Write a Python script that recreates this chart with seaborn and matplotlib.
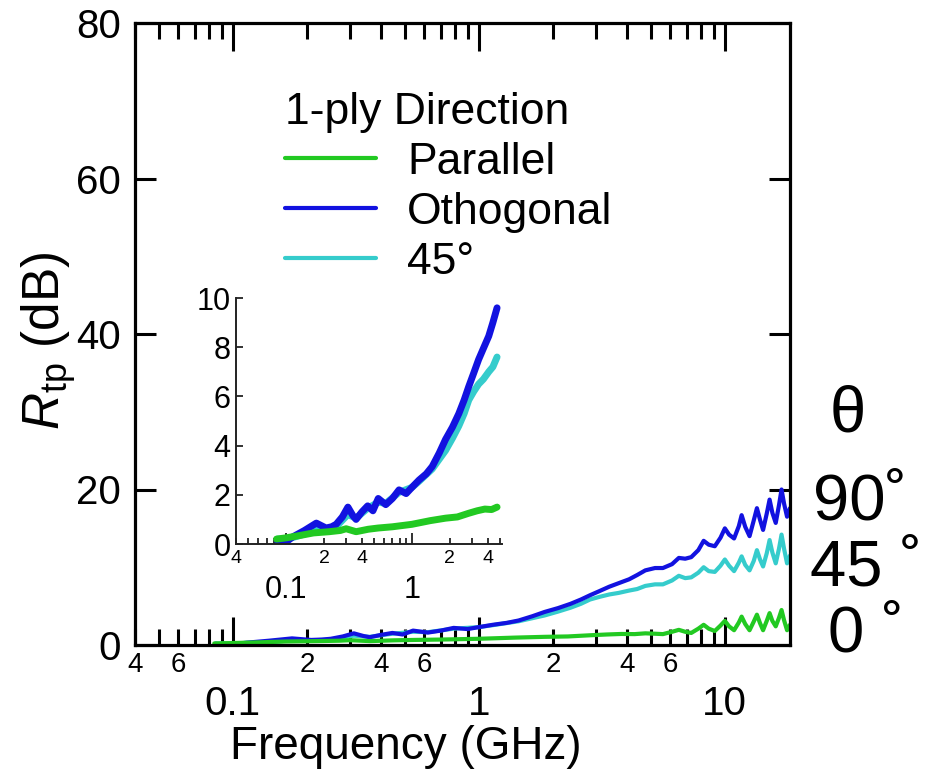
import matplotlib
matplotlib.use("Agg")
import matplotlib.pyplot as plt
from matplotlib.ticker import FixedLocator, FixedFormatter
import pandas as pd
import seaborn as sns

# ---------------- data ----------------
# shared frequency grid above 5 GHz (GHz)
freq_high = [5.2, 5.6, 6.1, 6.5, 6.9, 7.3, 7.8, 8.2, 8.6, 9.1, 9.6, 10.0, 10.4,
             10.9, 11.4, 11.7, 12.1, 12.6, 13.1, 13.5, 13.9, 14.3, 14.8, 15.2,
             15.6, 16.1, 16.6, 17.0, 17.4, 17.9, 18.4]

# orthogonal direction
freq_orth_low = [0.085, 0.095, 0.114, 0.14, 0.174, 0.19, 0.208, 0.23, 0.25, 0.28,
                 0.31, 0.34, 0.36, 0.40, 0.445, 0.49, 0.54, 0.62, 0.70, 0.79, 0.90,
                 1.0, 1.14, 1.3, 1.45, 1.65, 1.85, 2.1, 2.36, 2.6, 2.83, 3.1, 3.39,
                 3.7, 4.08, 4.4, 4.75]
rtp_orth_low = [0.15, 0.0, 0.3, 0.55, 0.85, 0.75, 0.65, 0.7, 0.8, 1.1, 1.5, 1.15,
                1.0, 1.3, 1.55, 1.35, 1.85, 1.6, 1.85, 2.2, 2.05, 2.3, 2.6, 2.85,
                3.15, 3.7, 4.25, 4.75, 5.3, 5.85, 6.4, 6.95, 7.5, 7.95, 8.45, 9.0, 9.6]
rtp_orth_high = [9.9, 9.9, 10.4, 11.2, 11.1, 11.3, 12.2, 13.4, 12.9, 12.7, 13.8,
                 15.0, 14.2, 13.7, 15.3, 16.7, 15.2, 14.0, 16.0, 17.6, 16.1, 14.8,
                 16.9, 18.7, 17.0, 15.7, 18.0, 20.0, 18.2, 16.5, 17.6]

# 45 degree direction
freq_45_low = [0.085, 0.1, 0.12, 0.15, 0.18, 0.21, 0.25, 0.31, 0.36, 0.445, 0.54,
               0.62, 0.79, 1.0, 1.14, 1.45, 1.85, 2.1, 2.36, 2.6, 2.83, 3.1, 3.39,
               3.7, 4.08, 4.4, 4.75]
rtp_45_low = [0.2, 0.2, 0.3, 0.45, 0.65, 0.6, 0.7, 1.2, 1.05, 1.45, 1.7, 1.65, 2.1,
              2.3, 2.55, 3.05, 3.8, 4.3, 4.8, 5.3, 5.85, 6.2, 6.5, 6.7, 7.0, 7.2, 7.6]
rtp_45_high = [7.8, 7.8, 8.3, 8.9, 8.6, 8.7, 9.3, 10.0, 9.5, 9.4, 10.2, 11.0, 10.2,
               9.5, 10.6, 11.4, 10.3, 9.6, 10.8, 12.2, 11.0, 10.1, 11.8, 13.5, 11.9,
               10.5, 12.4, 14.2, 12.4, 10.5, 11.5]

# parallel direction
freq_par_low = [0.084, 0.1, 0.13, 0.165, 0.22, 0.27, 0.3, 0.36, 0.45, 0.54, 0.7,
                1.0, 1.4, 1.85, 2.3, 2.83, 3.3, 3.8, 4.3, 4.75]
rtp_par_low = [0.2, 0.25, 0.35, 0.45, 0.5, 0.55, 0.62, 0.5, 0.6, 0.65, 0.7, 0.8,
               0.95, 1.05, 1.1, 1.25, 1.35, 1.42, 1.4, 1.5]
rtp_par_high = [1.45, 1.4, 1.7, 1.95, 1.7, 1.55, 2.1, 2.6, 2.1, 1.8, 2.5, 3.1, 2.4,
                1.9, 2.9, 3.65, 2.7, 1.9, 3.0, 3.9, 2.8, 1.9, 3.1, 4.1, 3.1, 2.4,
                3.5, 4.5, 3.2, 1.9, 2.6]

series_names = ["Parallel", "Othogonal", "45°"]
draw_order = ["45°", "Othogonal", "Parallel"]
series_colors = {"Parallel": "#22c922", "Othogonal": "#1212e0", "45°": "#35cccc"}

# main axis ticks
main_major = [0.1, 1, 10]
main_major_labels = ["0.1", "1", "10"]
main_minor = [0.04, 0.05, 0.06, 0.07, 0.08, 0.09, 0.2, 0.3, 0.4, 0.5, 0.6, 0.7,
              0.8, 0.9, 2, 3, 4, 5, 6, 7, 8, 9]
main_minor_labels = ["4", "", "6", "", "", "", "2", "", "4", "", "6", "", "", "",
                     "2", "", "4", "", "6", "", "", ""]
main_yticks = [0, 20, 40, 60, 80]

# inset ticks
ins_major = [0.1, 1]
ins_major_labels = ["0.1", "1"]
ins_minor = [0.04, 0.05, 0.06, 0.07, 0.08, 0.09, 0.2, 0.3, 0.4, 0.5, 0.6, 0.7,
             0.8, 0.9, 2, 3, 4, 5]
ins_minor_labels = ["4", "", "", "", "", "", "2", "", "4", "", "", "", "", "",
                    "2", "", "4", ""]
ins_yticks = [0, 2, 4, 6, 8, 10]

angle_labels = ["θ", "90˚", "45 ˚", "0 ˚"]

# ---------------- table ----------------
frames = [
    pd.DataFrame({"Frequency": freq_par_low + freq_high,
                  "Rtp": rtp_par_low + rtp_par_high, "Direction": "Parallel"}),
    pd.DataFrame({"Frequency": freq_orth_low + freq_high,
                  "Rtp": rtp_orth_low + rtp_orth_high, "Direction": "Othogonal"}),
    pd.DataFrame({"Frequency": freq_45_low + freq_high,
                  "Rtp": rtp_45_low + rtp_45_high, "Direction": "45°"}),
]
df = pd.concat(frames, ignore_index=True)

# ---------------- style ----------------
sns.set_style("ticks")
plt.rcParams["font.family"] = ["Liberation Sans", "DejaVu Sans"]
plt.rcParams["mathtext.fontset"] = "custom"
plt.rcParams["mathtext.rm"] = "Liberation Sans"
plt.rcParams["mathtext.it"] = "Liberation Sans:italic"
for key in ["text.color", "axes.labelcolor", "xtick.color", "ytick.color",
            "axes.edgecolor"]:
    plt.rcParams[key] = "black"

W, H = 925, 779
fig = plt.figure(figsize=(W / 100, H / 100), dpi=100)
fig.patch.set_facecolor("white")

# ---------------- main axes ----------------
L, R, T, B = 135, 790, 23, 645
ax = fig.add_axes([L / W, 1 - B / H, (R - L) / W, (B - T) / H])
ax.set_xscale("log")
sns.lineplot(data=df, x="Frequency", y="Rtp", hue="Direction",
             hue_order=draw_order, palette=series_colors, estimator=None,
             sort=False, lw=3, ax=ax)
ax.set_xlim(0.04, 18.4)
ax.set_ylim(0, 80)

ax.xaxis.set_major_locator(FixedLocator(main_major))
ax.xaxis.set_major_formatter(FixedFormatter(main_major_labels))
ax.xaxis.set_minor_locator(FixedLocator(main_minor))
ax.xaxis.set_minor_formatter(FixedFormatter(main_minor_labels))
ax.set_yticks(main_yticks)

for s in ax.spines.values():
    s.set_linewidth(2.3)
    s.set_color("black")
ax.tick_params(axis="both", which="both", direction="in", top=True,
               right=True, width=2.2, color="black", labelcolor="black")
ax.tick_params(axis="x", which="major", length=20, pad=29, labelsize=29)
ax.tick_params(axis="x", which="minor", length=11.5, pad=5, labelsize=20)
ax.tick_params(axis="y", which="major", length=15, pad=10, labelsize=29)

ax.set_xlabel("Frequency (GHz)", fontsize=33)
ax.xaxis.set_label_coords((406 - L) / (R - L), -0.128)
ax.set_ylabel(r"$R_{\rm tp}$ (dB)", fontsize=37)
ax.yaxis.set_label_coords(-0.087, 0.49)

old = ax.get_legend()
hmap = {t.get_text(): h for t, h in zip(old.get_texts(), old.legend_handles)}
old.remove()
leg = ax.legend([hmap[n] for n in series_names], series_names,
                title="1-ply Direction", frameon=False, fontsize=32,
                title_fontsize=32, handlelength=2.05, handletextpad=0.7,
                labelspacing=0.2, loc="upper left", alignment="left",
                bbox_to_anchor=((285 - L) / (R - L), (B - 92) / (B - T)),
                borderaxespad=0, borderpad=0)
for h in leg.legend_handles:
    h.set_linewidth(3)
for t in leg.get_texts():
    t.set_color("black")
leg.get_title().set_color("black")

# ---------------- inset ----------------
iL, iR, iT, iB = 236, 502, 298, 544
axin = fig.add_axes([iL / W, 1 - iB / H, (iR - iL) / W, (iB - iT) / H])
axin.set_xscale("log")
sns.lineplot(data=df[df["Frequency"] <= 4.8], x="Frequency", y="Rtp",
             hue="Direction", hue_order=draw_order, palette=series_colors,
             estimator=None, sort=False, lw=5, ax=axin, legend=False)
axin.set_xlim(0.04, 5.2)
axin.set_ylim(0, 10)
axin.set_facecolor("none")
axin.xaxis.set_major_locator(FixedLocator(ins_major))
axin.xaxis.set_major_formatter(FixedFormatter(ins_major_labels))
axin.xaxis.set_minor_locator(FixedLocator(ins_minor))
axin.xaxis.set_minor_formatter(FixedFormatter(ins_minor_labels))
axin.set_yticks(ins_yticks)
axin.set_xlabel("")
axin.set_ylabel("")
for side in ["top", "right"]:
    axin.spines[side].set_visible(False)
for side in ["left", "bottom"]:
    axin.spines[side].set_linewidth(1.4)
    axin.spines[side].set_color("#222222")
axin.tick_params(axis="both", which="both", direction="in", width=1.3,
                 color="#222222", labelcolor="black")
axin.tick_params(axis="x", which="major", length=8, pad=22, labelsize=22)
axin.tick_params(axis="x", which="minor", length=4.5, pad=4, labelsize=14)
axin.tick_params(axis="y", which="major", length=5, pad=4, labelsize=22)

# ---------------- angle annotations ----------------
angle_pos = [(848, 415), (860, 502), (866, 568), (866, 635)]
for txt, (px, py) in zip(angle_labels, angle_pos):
    fig.text(px / W, 1 - py / H, txt, fontsize=47, ha="center", va="center",
             color="black")

fig.savefig("out.png", dpi=100, facecolor="white")
